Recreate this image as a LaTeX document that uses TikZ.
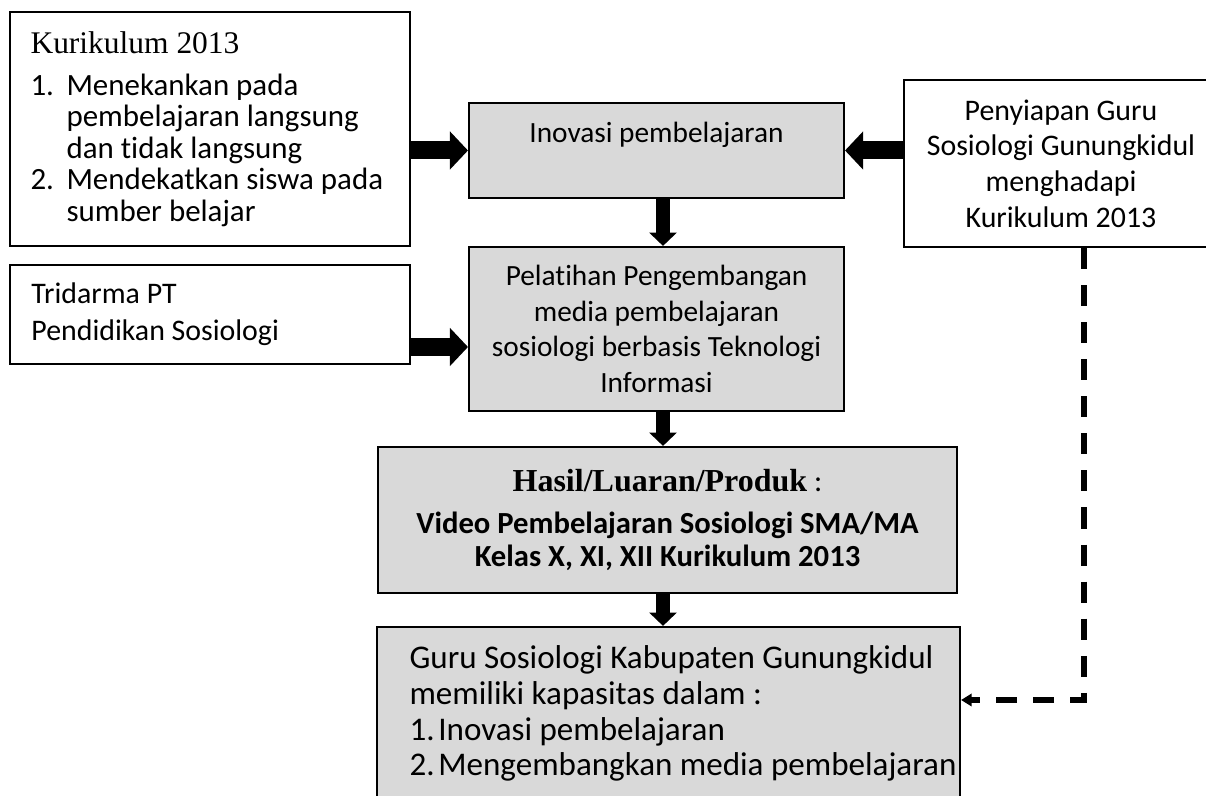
\documentclass[tikz,border=0pt]{standalone}
\usepackage{fontspec}
\setmainfont{Carlito}[Ligatures=NoCommon]
\newfontfamily\cambria{Liberation Serif}
\usetikzlibrary{arrows.meta}

\definecolor{boxgrey}{HTML}{D9D9D9}
\newcommand{\numitem}[3][13.5pt]{\makebox[#1][l]{#2}#3}

\begin{document}
\begin{tikzpicture}[x=0.375pt,y=-0.375pt,
                    box/.style={draw=black,line width=0.8pt,inner sep=0pt},
                    greybox/.style={box,fill=boxgrey,align=center},
                    boxtext/.style={anchor=west,align=left,inner sep=0pt},
                    hblk/.style={line width=6.75pt,-{Triangle[length=6.75pt,width=13.9pt]}},
                    vblk/.style={line width=4.9pt,-{Triangle[length=5pt,width=10.1pt]}},
                    dashlink/.style={line width=1.9pt,dash pattern=on 7.9pt off 6pt,-{Triangle[length=4pt,width=4.6pt]}}
]
\useasboundingbox (0,0) rectangle (1206,796);

% left column
\node [box,minimum width=150pt,minimum height=87.75pt] at (210,129) (kur) {};
\node [boxtext,font=\fontsize{11.6}{11.8}\selectfont] at ([xshift=7.9pt]kur.west) (kurTxt)
      {{\cambria\fontsize{11.8}{14}\selectfont Kurikulum 2013}\\[4pt]
       \numitem{1.}{Menekankan pada}\\
       \numitem{}{pembelajaran langsung}\\
       \numitem{}{dan tidak langsung}\\
       \numitem{2.}{Mendekatkan siswa pada}\\
       \numitem{}{sumber belajar}};
\node [box,minimum width=150pt,minimum height=37.1pt] at (210,314.5) (trid) {};
\node [boxtext,font=\fontsize{11.2}{13.9}\selectfont] at ([xshift=8.25pt]trid.west) (tridTxt)
      {Tridarma PT\\Pendidikan Sosiologi};

% middle column
\node [greybox,minimum width=140.6pt,minimum height=35.6pt,font=\fontsize{11}{13.4}\selectfont] at (656.5,150.5) (inov)
      {Inovasi pembelajaran\\\mbox{}};
\node [greybox,minimum width=140.6pt,minimum height=61.5pt,font=\fontsize{11}{13.4}\selectfont] at (656.5,329) (pel)
      {Pelatihan Pengembangan\\media pembelajaran\\sosiologi berbasis Teknologi\\Informasi};
\node [greybox,minimum width=217.1pt,minimum height=54.75pt,font=\bfseries\fontsize{11.5}{12.4}\selectfont] at (667.5,520) (hasil)
      {{\cambria\fontsize{12}{14}\selectfont Hasil/Luaran/Produk}{\mdseries\ :}\\[3pt]
       Video Pembelajaran Sosiologi SMA/MA\\Kelas X, XI, XII Kurikulum 2013};
\node [box,fill=boxgrey,minimum width=218.6pt,minimum height=64.9pt] at (668.5,713.5) (guru) {};
\node [boxtext,font=\fontsize{12.4}{13.4}\selectfont] at ([xshift=12.4pt]guru.west) (guruTxt)
      {Guru Sosiologi Kabupaten Gunungkidul\\
       memiliki kapasitas dalam :\\
       \numitem[10.8pt]{1.}{Inovasi pembelajaran}\\
       \numitem[10.8pt]{2.}{Mengembangkan media pembelajaran}};

% right column
\node [box,align=center,minimum width=117.75pt,minimum height=62.6pt,font=\fontsize{11.2}{13.35}\selectfont] at (1061,163.5) (peny)
      {Penyiapan Guru\\Sosiologi Gunungkidul\\menghadapi\\Kurikulum 2013};

% block arrows
\coordinate (mid) at (663,0);
\coordinate (tp) at (410,347);
\coordinate (bend) at (1084,700);
\draw [hblk] (kur.east |- inov.west) -- (inov.west);
\draw [hblk] (peny.west |- inov.east) -- (inov.east);
\draw [hblk] (tp) -- (pel.west |- tp);
\draw [vblk] (inov.south -| mid) -- (pel.north -| mid);
\draw [vblk] (pel.south -| mid) -- (hasil.north -| mid);
\draw [vblk] (hasil.south -| mid) -- (guru.north -| mid);
%
\draw [dashlink] (peny.south -| bend) -- (bend) -- (guru.east |- bend);
\end{tikzpicture}
\end{document}
